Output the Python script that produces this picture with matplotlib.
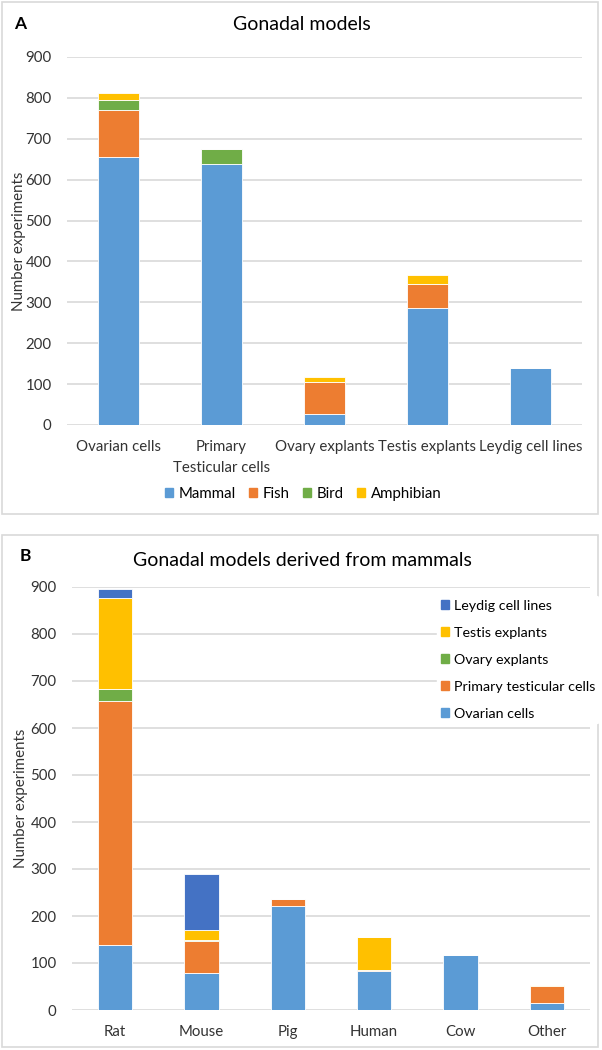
import numpy as np
import matplotlib.pyplot as plt
from matplotlib.patches import Rectangle, Patch

plt.rcParams['font.family'] = ['Lato', 'DejaVu Sans']

# Panel A data: experiments per gonadal model, split by animal class
models_a = ['Ovarian cells', 'Primary\nTesticular cells', 'Ovary explants',
            'Testis explants', 'Leydig cell lines']
mammal = [656, 639, 28, 287, 140]
fish = [115, 0, 77, 57, 0]
bird = [24, 37, 0, 0, 0]
amphibian = [16, 0, 13, 22, 0]

# Panel B data: mammalian species split by gonadal model
species = ['Rat', 'Mouse', 'Pig', 'Human', 'Cow', 'Other']
ovarian_cells = [138, 79, 222, 83, 116, 15]
primary_testicular = [519, 68, 14, 2, 0, 36]
ovary_explants = [25, 3, 0, 0, 0, 0]
testis_explants = [194, 20, 0, 70, 0, 2]
leydig_lines = [20, 120, 0, 0, 0, 0]

BLUE = '#5B9BD5'
ORANGE = '#ED7D31'
GREEN = '#70AD47'
YELLOW = '#FFC000'
DARKBLUE = '#4472C4'
GRID = '#d9d9d9'

W, H = 602, 1050
fig = plt.figure(figsize=(W / 100, H / 100), dpi=100)


def fx(px):
    return px / W


def fy(py):
    return 1 - py / H


def style_axis(ax):
    ax.set_ylim(0, 900)
    ax.set_yticks(np.arange(0, 901, 100))
    ax.yaxis.grid(True, color=GRID, linewidth=1.2)
    ax.set_axisbelow(True)
    for s in ax.spines.values():
        s.set_visible(False)
    ax.tick_params(length=0, labelsize=10.8, colors='#333333', pad=11)
    ax.set_ylabel('Number experiments', fontsize=10.8, color='#333333')


def stack(ax, cats, series, colors):
    x = np.arange(len(cats))
    bottom = np.zeros(len(cats))
    for vals, c in zip(series, colors):
        vals = np.array(vals, dtype=float)
        ax.bar(x, vals, width=0.4, bottom=bottom, color=c,
               edgecolor='white', linewidth=0.6)
        bottom += vals
    ax.set_xlim(-0.5, len(cats) - 0.5)
    ax.set_xticks(x)
    ax.set_xticklabels(cats, linespacing=1.6)


# panel frames
for top, bot in [(2, 514), (535, 1047)]:
    fig.patches.append(Rectangle((fx(2), fy(bot)), fx(598) - fx(2), fy(top) - fy(bot),
                                 transform=fig.transFigure, fill=False,
                                 edgecolor=GRID, linewidth=1.2))

# ---- Panel A ----
axA = fig.add_axes([fx(67), fy(425), fx(582) - fx(67), fy(57) - fy(425)])
stack(axA, models_a, [mammal, fish, bird, amphibian], [BLUE, ORANGE, GREEN, YELLOW])
style_axis(axA)
axA.yaxis.set_label_coords(-0.08, 0.5)
fig.text(fx(302), fy(24), 'Gonadal models', ha='center', va='center', fontsize=14)
fig.text(fx(14), fy(24), 'A', ha='left', va='center', fontsize=12.5, fontweight='bold')
handles_a = [Patch(color=c, label=l) for c, l in
             zip([BLUE, ORANGE, GREEN, YELLOW], ['Mammal', 'Fish', 'Bird', 'Amphibian'])]
fig.legend(handles=handles_a, loc='center', bbox_to_anchor=(fx(303), fy(494)),
           ncol=4, frameon=False, fontsize=10.8, handlelength=0.55, handleheight=0.55,
           handletextpad=0.35, columnspacing=0.9)

# ---- Panel B ----
axB = fig.add_axes([fx(72), fy(1010), fx(590) - fx(72), fy(587) - fy(1010)])
stack(axB, species,
      [ovarian_cells, primary_testicular, ovary_explants, testis_explants, leydig_lines],
      [BLUE, ORANGE, GREEN, YELLOW, DARKBLUE])
style_axis(axB)
axB.yaxis.set_label_coords(-0.085, 0.5)
fig.text(fx(302), fy(560), 'Gonadal models derived from mammals', ha='center',
         va='center', fontsize=14)
fig.text(fx(20), fy(556), 'B', ha='left', va='center', fontsize=12.5, fontweight='bold')
handles_b = [Patch(color=c, label=l) for c, l in
             zip([DARKBLUE, YELLOW, GREEN, ORANGE, BLUE],
                 ['Leydig cell lines', 'Testis explants', 'Ovary explants',
                  'Primary testicular cells', 'Ovarian cells'])]
leg = fig.legend(handles=handles_b, loc='upper left', bbox_to_anchor=(fx(430), fy(589)),
                 frameon=True, fontsize=10.3, handlelength=0.55, handleheight=0.55,
                 handletextpad=0.35, labelspacing=1.05, borderpad=0.25)
leg.get_frame().set_facecolor('white')
leg.get_frame().set_edgecolor('white')
leg.get_frame().set_alpha(1)

fig.savefig('out.png', dpi=100, facecolor='white')
